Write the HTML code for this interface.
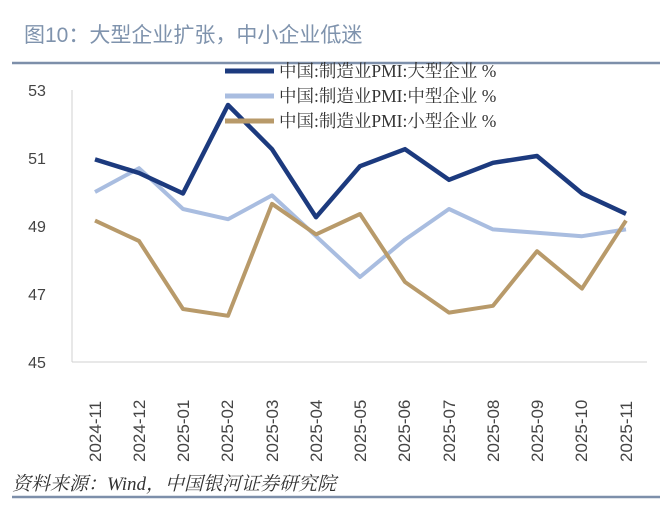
<!DOCTYPE html><html><head><meta charset="utf-8"><style>body{margin:0;background:#fff}</style></head><body>
<svg width="666" height="517" xmlns="http://www.w3.org/2000/svg" font-family="'Liberation Serif','Noto Serif CJK SC',serif">
<text x="24" y="42" font-size="21" fill="#7f93ad" font-family="'Liberation Sans','Noto Sans CJK SC',sans-serif">图10：大型企业扩张，中小企业低迷</text>
<line x1="12" y1="63" x2="660" y2="63" stroke="#7d8faa" stroke-width="2.5"/>
<line x1="12" y1="497" x2="660" y2="497" stroke="#7d8faa" stroke-width="2.5"/>
<text x="12" y="490" font-size="19" font-style="italic" fill="#333" font-family="'Liberation Serif','Noto Serif CJK SC',serif">资料来源：Wind，中国银河证券研究院</text>
<g font-size="16" fill="#444" text-anchor="middle" font-family="'Liberation Sans Narrow','Liberation Sans',sans-serif">
<text x="37" y="96">53</text><text x="37" y="164">51</text><text x="37" y="232">49</text><text x="37" y="300">47</text><text x="37" y="368">45</text></g>
<line x1="72" y1="90" x2="72" y2="362" stroke="#d0d0d0"/>
<line x1="72" y1="362" x2="647" y2="362" stroke="#d0d0d0"/>
<g font-size="17" fill="#444" font-family="'Liberation Sans Narrow','Liberation Sans',sans-serif">
<text transform="translate(101,462) rotate(-90)">2024-11</text>
<text transform="translate(145,462) rotate(-90)">2024-12</text>
<text transform="translate(189,462) rotate(-90)">2025-01</text>
<text transform="translate(233,462) rotate(-90)">2025-02</text>
<text transform="translate(278,462) rotate(-90)">2025-03</text>
<text transform="translate(322,462) rotate(-90)">2025-04</text>
<text transform="translate(366,462) rotate(-90)">2025-05</text>
<text transform="translate(410,462) rotate(-90)">2025-06</text>
<text transform="translate(455,462) rotate(-90)">2025-07</text>
<text transform="translate(499,462) rotate(-90)">2025-08</text>
<text transform="translate(543,462) rotate(-90)">2025-09</text>
<text transform="translate(587,462) rotate(-90)">2025-10</text>
<text transform="translate(632,462) rotate(-90)">2025-11</text></g>
<polyline fill="none" stroke="#a9bde0" stroke-width="4" stroke-linejoin="round" points="95,192 139,168.2 183,209 228,219.2 272,195.4 316,236.2 360,277 405,239.6 449,209 493,229.4 537,232.8 582,236.2 626,229.4"/>
<polyline fill="none" stroke="#b89a6a" stroke-width="4" stroke-linejoin="round" points="95,220.6 139,241 183,309 228,315.8 272,203.8 316,234.4 360,214 405,282 449,312.6 493,305.8 537,251.2 582,288.6 626,220.6"/>
<polyline fill="none" stroke="#1c3a7e" stroke-width="4.5" stroke-linejoin="round" points="95,159.4 139,173 183,193.4 228,105 272,149.2 316,217.2 360,166.2 405,149.2 449,179.8 493,162.8 537,156 582,193.4 626,213.8"/>
<g font-size="17.5" fill="#333">
<line x1="225" y1="71" x2="274" y2="71" stroke="#1c3a7e" stroke-width="5"/>
<text x="279" y="77">中国:制造业PMI:大型企业 %</text>
<line x1="225" y1="96" x2="274" y2="96" stroke="#a9bde0" stroke-width="5"/>
<text x="279" y="102">中国:制造业PMI:中型企业 %</text>
<line x1="225" y1="121" x2="274" y2="121" stroke="#b89a6a" stroke-width="5"/>
<text x="279" y="127">中国:制造业PMI:小型企业 %</text></g>
</svg></body></html>
